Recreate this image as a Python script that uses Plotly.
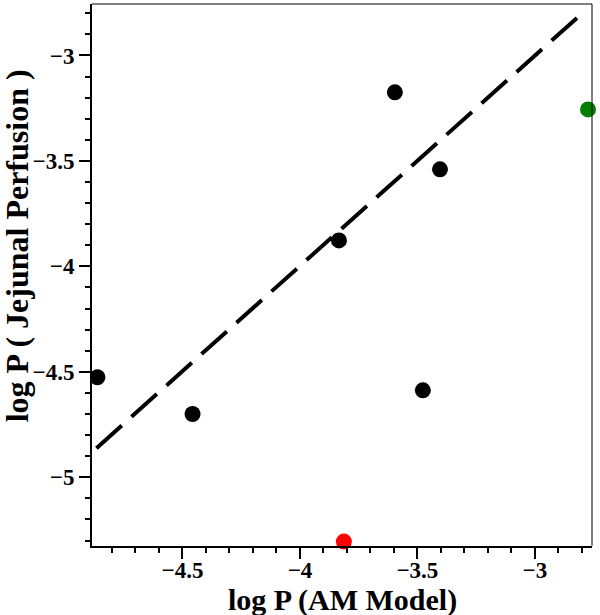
import plotly.graph_objects as go

# data
am_model = [-4.862, -4.457, -3.834, -3.596, -3.404, -3.477]
jejunal = [-4.526, -4.700, -3.877, -3.175, -3.540, -4.588]
red_x, red_y = [-3.813], [-5.305]
green_x, green_y = [-2.774], [-3.256]
line_x = [-4.866, -2.809]
line_y = [-4.862, -2.810]

x_range = [-4.885, -2.757]
y_range = [-5.326, -2.756]

fig = go.Figure()
fig.add_trace(go.Scatter(x=line_x, y=line_y, mode="lines",
                         line=dict(color="black", width=4, dash="34px,13px"),
                         showlegend=False))
fig.add_trace(go.Scatter(x=am_model, y=jejunal, mode="markers",
                         marker=dict(color="black", size=16), showlegend=False))
fig.add_trace(go.Scatter(x=red_x, y=red_y, mode="markers",
                         marker=dict(color="#ff0000", size=16), showlegend=False,
                         cliponaxis=False))
fig.add_trace(go.Scatter(x=green_x, y=green_y, mode="markers",
                         marker=dict(color="#008000", size=16), showlegend=False,
                         cliponaxis=False))

serif = "Liberation Serif"
axis_common = dict(
    showgrid=False, zeroline=False, showline=True, linecolor="black", linewidth=2,
    ticks="outside", ticklen=11, tickwidth=1.5, tickcolor="black", dtick=0.5,
    automargin=False,
    tickfont=dict(family=serif, size=23, color="black", weight="bold"),
    minor=dict(dtick=0.1, ticks="outside", ticklen=5, tickwidth=1.5, tickcolor="black"),
)

fig.update_xaxes(range=x_range, tick0=-3, ticklabelstandoff=-9, **axis_common)
fig.update_yaxes(range=y_range, tick0=-3, **axis_common)

# axis titles as annotations so they sit where the reference has them
fig.add_annotation(text="<b>log P (AM Model)</b>", xref="paper", yref="paper",
                   x=0.5, y=0, yshift=-54, xanchor="center", yanchor="middle",
                   showarrow=False, font=dict(family=serif, size=30, color="black"))
fig.add_annotation(text="<b>log P ( Jejunal Perfusion )</b>", xref="paper", yref="paper",
                   x=0, xshift=-75, y=0.553, xanchor="center", yanchor="middle",
                   textangle=-90, showarrow=False,
                   font=dict(family=serif, size=32, color="black"))

# thin top and right frame
fig.add_shape(type="line", xref="paper", yref="paper", x0=0, x1=1, y0=1, y1=1,
              line=dict(color="black", width=1))
fig.add_shape(type="line", xref="paper", yref="paper", x0=1, x1=1, y0=0, y1=1,
              line=dict(color="black", width=1))

fig.update_layout(width=600, height=615, margin=dict(l=92, r=8, t=4, b=69),
                  plot_bgcolor="white", paper_bgcolor="white")

# drop the browser's default body margin so the figure sits at the page corner
fig.write_html("out.html", config={"displayModeBar": False},
               post_script="document.body.style.margin='0';")
